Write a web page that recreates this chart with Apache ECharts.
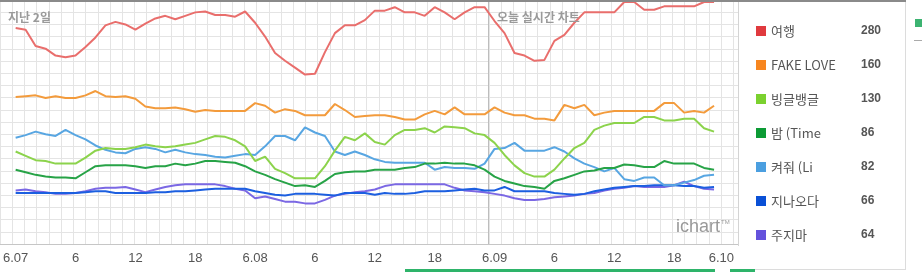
<!DOCTYPE html>
<html><head><meta charset="utf-8">
<script src="https://cdn.jsdelivr.net/npm/echarts@6/dist/echarts.min.js"></script>
<style>html,body{margin:0;padding:0;background:#fff}#c{width:922px;height:272px}</style>
</head><body><div id="c"></div>
<script>
const seriesNames = ['여행', 'FAKE LOVE', '빙글뱅글', '밤 (Time', '켜줘 (Li', '지나오다', '주지마'];
const legendValues = [280, 160, 130, 86, 82, 66, 64];
const tickLabels = ['6.07', '6', '12', '18', '6.08', '6', '12', '18', '6.09', '6', '12', '18', '6.10'];

const red = [250,248,229,226,218,216,218,228,239,253,257,254,248,255,261,264,260,264,268,269,265,265,263,269,256,240,221,212,204,196,197,222,244,253,253,259,270,270,274,268,268,264,274,268,260,268,274,274,258,244,221,218,212,213,235,242,256,268,268,268,268,280,280,271,271,275,275,275,275,280,280];
const orange = [170,171,172,169,171,169,169,172,177,171,170,171,168,159,157,157,158,156,153,155,154,154,154,154,163,160,152,156,154,149,149,149,162,155,147,148,149,149,147,144,144,150,154,150,158,150,150,150,158,152,149,149,145,145,143,161,157,161,149,152,154,154,154,154,154,163,163,152,154,152,160];
const lightGreen = [107,102,97,96,93,93,93,100,108,111,110,110,112,115,113,112,113,115,117,121,125,124,120,113,96,101,87,82,76,76,76,90,108,124,120,128,118,115,126,132,132,134,129,136,135,134,128,126,117,103,91,82,78,78,86,99,111,117,132,137,140,140,140,147,147,143,143,145,145,134,130];
const darkGreen = [86,83,80,78,77,77,76,83,90,91,91,91,90,88,90,90,93,91,93,96,96,95,94,90,84,80,75,71,67,68,66,73,81,83,84,84,86,86,86,88,89,93,93,94,93,93,91,86,78,73,70,67,66,64,73,76,80,84,85,88,88,92,91,89,89,96,93,93,93,88,86];
const lightBlue = [123,126,130,127,125,132,126,121,114,109,106,105,110,112,110,106,109,106,104,103,101,100,102,104,103,113,125,125,120,135,129,125,107,103,107,103,98,95,94,94,94,94,86,89,88,88,87,93,110,111,117,108,108,108,112,107,99,93,89,84,88,75,73,77,77,68,68,71,74,79,80];
const blue = [59,59,59,59,59,59,59,60,61,61,59,59,59,59,60,60,61,61,62,63,64,64,64,64,61,59,57,56,58,58,58,57,56,59,59,59,57,59,58,58,59,61,61,61,62,63,64,62,62,66,61,61,61,61,59,58,57,58,61,63,65,66,67,67,68,68,68,67,67,65,66];
const purple = [62,63,61,60,58,58,59,61,64,65,65,66,63,60,63,66,68,69,69,69,69,67,64,62,53,55,52,49,49,47,47,51,56,58,60,61,63,67,69,69,69,69,69,69,65,62,61,60,58,56,53,51,51,52,54,55,56,58,59,62,64,65,67,66,66,66,68,72,67,64,63];

const allValues = [red, orange, lightGreen, darkGreen, lightBlue, blue, purple];
const lineColors = ['#e96e6c', '#f39b3c', '#8cd34c', '#27a347', '#58a6e2', '#1c5fe0', '#7b68e4'];
const iconColors = ['#e03a3e', '#f7861f', '#7bd12f', '#0c9b35', '#4b9fe0', '#0a50d6', '#6452dc'];

const FONT = "'Liberation Sans', Arial, 'Noto Sans CJK KR', sans-serif";
const KFONT = "'Noto Sans CJK KR', 'Liberation Sans', sans-serif";

const chart = echarts.init(document.getElementById('c'), null, {renderer: 'canvas'});

const series = allValues.map((vals, k) => ({
  name: seriesNames[k],
  type: 'line',
  xAxisIndex: 0,
  yAxisIndex: 0,
  symbol: 'none',
  showSymbol: false,
  lineStyle: {width: 2, color: lineColors[k]},
  itemStyle: {color: iconColors[k]},
  data: vals.map((v, i) => [i, v]),
  z: 10 - k
}));

const option = {
  animation: false,
  backgroundColor: '#fff',
  grid: [
    {left: 14, right: 188, top: 2, bottom: 28},
    {left: 0, right: 184, top: 0, bottom: 28}
  ],
  xAxis: [
    {
      type: 'value', gridIndex: 0, min: 0, max: 72, interval: 6,
      axisLine: {show: false}, axisTick: {show: false}, splitLine: {show: false},
      axisLabel: {
        color: '#555', fontSize: 13, fontFamily: FONT, margin: 8,
        alignMaxLabel: 'right',
        formatter: v => tickLabels[Math.round(v / 6)]
      }
    },
    {
      type: 'value', gridIndex: 1, min: 0, max: 738, interval: 12.22,
      axisLine: {show: false}, axisTick: {show: false}, axisLabel: {show: false},
      splitLine: {show: true, lineStyle: {color: '#e4e4e4', width: 1}}
    }
  ],
  yAxis: [
    {type: 'value', gridIndex: 0, min: 0, max: 280, show: false},
    {
      type: 'value', gridIndex: 1, min: 0, max: 244, interval: 12.2,
      axisLine: {show: false}, axisTick: {show: false}, axisLabel: {show: false},
      splitLine: {show: true, lineStyle: {color: '#e4e4e4', width: 1}}
    }
  ],
  legend: {
    orient: 'vertical',
    left: 751, top: 19,
    itemWidth: 10, itemHeight: 10, itemGap: 20,
    icon: 'rect',
    data: seriesNames,
    formatter: name => '{n|' + name + '}{v|' + legendValues[seriesNames.indexOf(name)] + '}',
    textStyle: {
      lineHeight: 14,
      rich: {
        n: {width: 90, fontSize: 13, color: '#555', fontFamily: KFONT},
        v: {fontSize: 12, fontWeight: 'bold', color: '#555', fontFamily: FONT}
      }
    }
  },
  series: series,
  graphic: [
    {type: 'rect', shape: {x: 0, y: 0, width: 906, height: 2}, style: {fill: '#8a8a8a'}, z: 100},
    {type: 'line', shape: {x1: 488.5, y1: 2, x2: 488.5, y2: 244}, style: {stroke: '#bdbdbd', lineWidth: 1}, z: 1},
    {type: 'line', shape: {x1: 738.5, y1: 2, x2: 738.5, y2: 246}, style: {stroke: '#d4d4d4', lineWidth: 1}, z: 1},
    {type: 'line', shape: {x1: 0, y1: 244.5, x2: 738, y2: 244.5}, style: {stroke: '#c6c6c6', lineWidth: 1}, z: 1},
    {type: 'line', shape: {x1: 905.5, y1: 2, x2: 905.5, y2: 270}, style: {stroke: '#dcdcdc', lineWidth: 1}, z: 1},
    {type: 'line', shape: {x1: 738, y1: 269.5, x2: 906, y2: 269.5}, style: {stroke: '#dcdcdc', lineWidth: 1}, z: 1},
    {type: 'rect', shape: {x: 405, y: 269, width: 310, height: 3}, style: {fill: '#2eb46a'}, z: 5},
    {type: 'rect', shape: {x: 730, y: 269, width: 25, height: 3}, style: {fill: '#2eb46a'}, z: 5},
    {type: 'rect', shape: {x: 915, y: 19, width: 7, height: 8}, style: {fill: '#3cb371'}, z: 5},
    {type: 'line', shape: {x1: 914, y1: 40.5, x2: 922, y2: 40.5}, style: {stroke: '#aaa', lineWidth: 1}, z: 5},
    {type: 'text', x: 8, y: 11, style: {text: '지난 2일', fill: '#9a9a9a', font: "bold 12px 'Noto Sans CJK KR', sans-serif"}, z: 50},
    {type: 'text', x: 497, y: 11, style: {text: '오늘 실시간 차트', fill: '#9a9a9a', font: "bold 12px 'Noto Sans CJK KR', sans-serif"}, z: 50},
    {type: 'text', x: 676, y: 218, style: {text: 'ichart', fill: '#999', font: "18px 'Liberation Sans', Arial, sans-serif"}, z: 50},
    {type: 'text', x: 721, y: 219, style: {text: 'TM', fill: '#999', font: "6px 'Liberation Sans', Arial, sans-serif"}, z: 50}
  ]
};
chart.setOption(option);
</script>
</body></html>
